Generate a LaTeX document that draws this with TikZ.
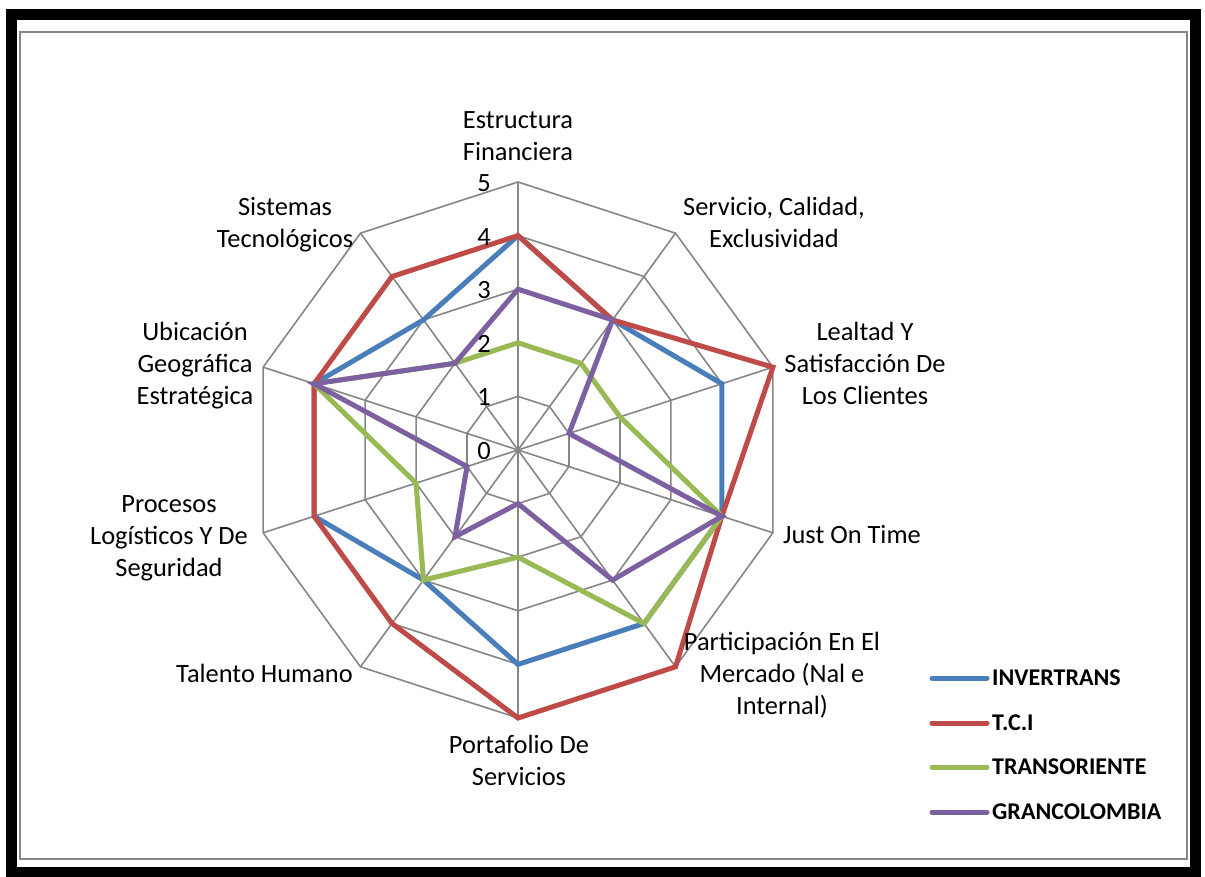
\documentclass[tikz,border=0pt]{standalone}
\usepackage{fontspec}
\setmainfont{Carlito}
\definecolor{serA}{HTML}{4A7EBB}
\definecolor{serB}{HTML}{BE4B48}
\definecolor{serC}{HTML}{98B954}
\definecolor{serD}{HTML}{7D60A0}
\definecolor{gridgray}{HTML}{868686}
\begin{document}
\begin{tikzpicture}[x=1pt,y=-1pt,
  grid/.style={draw=gridgray,line width=1.6pt},
  series/.style={line width=5pt,miter limit=10},
  legline/.style={line width=5pt,line cap=round},
  axlabel/.style={font=\fontsize{26.4}{32}\selectfont,align=center,inner sep=0pt,anchor=base},
  tick/.style={font=\fontsize{26.4}{32}\selectfont,inner sep=0pt,anchor=base east},
  legtext/.style={font=\fontsize{24}{29}\selectfont\bfseries,inner sep=0pt,anchor=base west}]
\useasboundingbox (0,0) rectangle (1205,877);
\fill[white] (0,0) rectangle (1205,877);
% outer black frame and inner chart area
\draw[line width=11pt] (11,14.5) rectangle (1195.5,872);
\draw[draw=gridgray,line width=2pt] (20,32) rectangle (1187,859);

\coordinate (O) at (518,450);
\begin{scope}[shift={(O)}]
  % decagonal grid rings
  \foreach \v in {1,...,5}{
    \draw[grid] (-90:{\v*53.6}) \foreach \k in {1,...,9}{ -- ({-90+36*\k}:{\v*53.6})} -- cycle;
  }
  % spokes
  \foreach \k in {0,...,9}{
    \draw[grid] (0,0) -- ({-90+36*\k}:268);
  }
  % data series
  \foreach \val [count=\k from 0] in {4,3,4,4,4,4,3,4,4,3}
    \coordinate (a\k) at ({-90+36*\k}:{\val*53.6});
  \foreach \val [count=\k from 0] in {4,3,5,4,5,5,4,4,4,4}
    \coordinate (b\k) at ({-90+36*\k}:{\val*53.6});
  \foreach \val [count=\k from 0] in {2,2,2,4,4,2,3,2,4,2}
    \coordinate (c\k) at ({-90+36*\k}:{\val*53.6});
  \foreach \val [count=\k from 0] in {3,3,1,4,3,1,2,1,4,2}
    \coordinate (d\k) at ({-90+36*\k}:{\val*53.6});
  \draw[series,serA] (a0)--(a1)--(a2)--(a3)--(a4)--(a5)--(a6)--(a7)--(a8)--(a9)--cycle;
  \draw[series,serB] (b0)--(b1)--(b2)--(b3)--(b4)--(b5)--(b6)--(b7)--(b8)--(b9)--cycle;
  \draw[series,serC] (c0)--(c1)--(c2)--(c3)--(c4)--(c5)--(c6)--(c7)--(c8)--(c9)--cycle;
  \draw[series,serD] (d0)--(d1)--(d2)--(d3)--(d4)--(d5)--(d6)--(d7)--(d8)--(d9)--cycle;
\end{scope}

% scale values
\foreach \v in {0,...,5}
  \node[tick] (t\v) at (491,{450-53.6*\v+9.5}) {\v};

% category labels (base = baseline of the last line)
\node[axlabel] (cat0) at (518,161) {Estructura\\Financiera};
\node[axlabel] (cat1) at (774,248) {Servicio, Calidad,\\Exclusividad};
\node[axlabel] (cat2) at (865,404) {Lealtad Y\\Satisfacción De\\Los Clientes};
\node[axlabel,anchor=base west] (cat3) at (783,543) {Just On Time};
\node[axlabel] (cat4) at (782,714) {Participación En El\\Mercado (Nal e\\Internal)};
\node[axlabel] (cat5) at (519,785) {Portafolio De\\Servicios};
\node[axlabel,anchor=base east] (cat6) at (353,682) {Talento Humano};
\node[axlabel] (cat7) at (169,576) {Procesos\\Logísticos Y De\\Seguridad};
\node[axlabel] (cat8) at (195,404) {Ubicación\\Geográfica\\Estratégica};
\node[axlabel] (cat9) at (285,248) {Sistemas\\Tecnológicos};

% legend
\draw[legline,serA] (932,678) -- (987,678);
\node[legtext] (legA) at (992,685) {INVERTRANS};
\draw[legline,serB] (932,723) -- (987,723);
\node[legtext] (legB) at (992,730) {T.C.I};
\draw[legline,serC] (932,767) -- (987,767);
\node[legtext] (legC) at (992,774) {TRANSORIENTE};
\draw[legline,serD] (932,812) -- (987,812);
\node[legtext] (legD) at (992,819) {GRANCOLOMBIA};
\end{tikzpicture}
\end{document}
